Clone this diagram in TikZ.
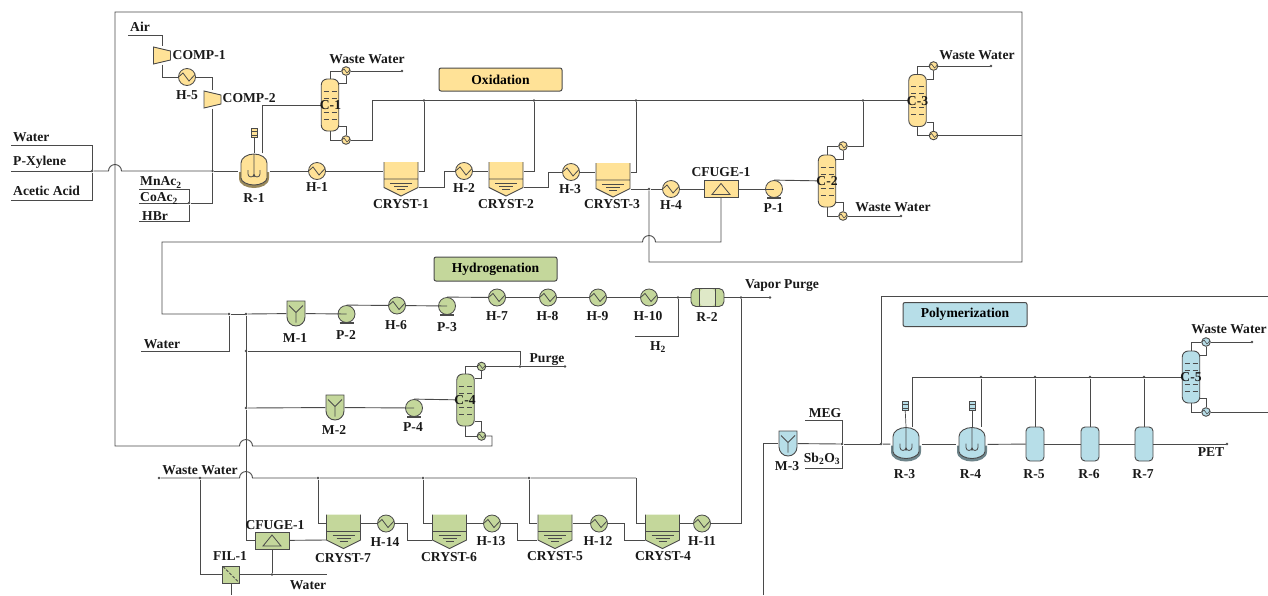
\documentclass[tikz,border=0pt]{standalone}
\usepackage{fontspec}
\setmainfont{Liberation Serif}
\definecolor{oxfill}{HTML}{FFE297}
\definecolor{hyfill}{HTML}{C4D79B}
\definecolor{pofill}{HTML}{B7DEE8}
\definecolor{linecol}{HTML}{4A4A4A}
\colorlet{unitfill}{oxfill}
\tikzset{
  flow/.style={draw=linecol,line width=.9pt},
  lab/.style={inner sep=0pt,font=\bfseries\fontsize{13.6}{15}\selectfont,text=black!90},
  stage/.style={draw=linecol,line width=1pt,rounded corners=2pt,inner sep=0pt,font=\bfseries\fontsize{13.6}{15}\selectfont},
  junc/.style={circle,fill=linecol,inner sep=0pt,minimum size=2.6pt},
  inbox/.style={shift={(path picture bounding box.center)}},
  heat/.style={circle,draw=linecol,line width=.8pt,fill=unitfill,inner sep=0pt,minimum size=17pt,
    path picture={\draw[inbox,line width=.8pt,draw=linecol] (-8.5,0)--(-4,-4)--(2,4)--(8.5,-3);}},
  cond/.style={circle,draw=linecol,line width=.9pt,fill=unitfill,inner sep=0pt,minimum size=8.6pt,
    path picture={\draw[inbox,line width=.6pt,draw=linecol] (-4.3,0)--(-2,-2)--(1,2)--(4.3,-1.5);}},
  pump/.style={circle,draw=linecol,line width=.8pt,fill=unitfill,inner sep=0pt,minimum size=17pt,
    append after command={([xshift=-7pt]\tikzlastnode.south) edge[draw=linecol,line width=1.5pt] ([xshift=7pt]\tikzlastnode.south)}},
  tower/.style={rectangle,draw=linecol,line width=.9pt,fill=unitfill,rounded corners=6pt,inner sep=0pt,
    minimum width=17.5pt,minimum height=52pt,
    path picture={\foreach \t in {-14,-7,7,14}{
      \draw[inbox,line width=.7pt,draw=linecol] (-6.5,\t)--(-1.5,\t) (1.5,\t)--(6.5,\t);}}},
  tank/.style={rectangle,draw=linecol,line width=.9pt,fill=unitfill,rounded corners=4pt,inner sep=0pt,
    minimum width=18pt,minimum height=34pt},
  cryst/.style={rectangle,inner sep=0pt,minimum width=35pt,minimum height=35pt,
    path picture={
      \fill[inbox,unitfill] (-17,-17)--(17,-17)--(17,8.5)--(0,17)--(-17,8.5)--cycle;
      \draw[inbox,draw=linecol,line width=.9pt] (-17,-17)--(-17,8.5)--(0,17)--(17,8.5)--(17,-17) (-17,0)--(17,0);
      \draw[inbox,draw=linecol,line width=.8pt] (-11,4)--(11,4) (-7,7)--(7,7) (-4,10)--(4,10);}},
  comp/.style={rectangle,inner sep=0pt,minimum width=18.5pt,minimum height=18pt,
    path picture={\path[inbox,fill=unitfill,draw=linecol,line width=.9pt] (-8.5,-8.5)--(8.5,-4.5)--(8.5,4.5)--(-8.5,8.5)--cycle;}},
  mixer/.style={rectangle,inner sep=0pt,minimum width=19pt,minimum height=26pt,
    path picture={
      \path[inbox,fill=unitfill,draw=linecol,line width=.9pt] (-9,-12.5)--(9,-12.5)--(9,3.5) arc[start angle=0,end angle=180,radius=9]--cycle;
      \draw[inbox,draw=linecol,line width=.8pt] (-7,-8)--(0,-1)--(7,-8) (0,-1)--(0,9);}},
  cfuge/.style={rectangle,draw=linecol,line width=.9pt,fill=unitfill,inner sep=0pt,minimum width=34pt,minimum height=17pt,
    path picture={\draw[inbox,draw=linecol,line width=.8pt] (0,-5.5)--(9,5.5)--(-9,5.5)--cycle;}},
  filt/.style={rectangle,draw=linecol,line width=1pt,fill=unitfill,inner sep=0pt,minimum size=17pt,
    path picture={\draw[inbox,draw=linecol,line width=.8pt,dash pattern=on 3pt off 1.5pt] (-8,-8)--(8,8);}},
  plug/.style={rectangle,draw=linecol,line width=.9pt,fill=unitfill,rounded corners=5pt,inner sep=0pt,minimum width=33pt,minimum height=18pt,
    path picture={
      \fill[inbox,unitfill!55!white] (-8,-9) rectangle (8,9);
      \draw[inbox,draw=linecol,line width=.8pt] (-8,-9)--(-8,9) (8,-9)--(8,9);}},
  react/.style={rectangle,inner sep=0pt,minimum width=31pt,minimum height=35pt,
    path picture={
      \path[inbox,fill=unitfill!60!black] (-15,1)--(-15,7) .. controls (-15,14) and (-7,17) .. (0,17) .. controls (7,17) and (15,14) .. (15,7)--(15,1)--cycle;
      \path[inbox,fill=unitfill,draw=linecol,line width=.9pt] (-13,-8) .. controls (-13,-13) and (-7,-17) .. (0,-17) .. controls (7,-17) and (13,-13) .. (13,-8)--(13,7) .. controls (13,11) and (6,14) .. (0,14) .. controls (-6,14) and (-13,11) .. (-13,7)--cycle;
      \draw[inbox,draw=linecol,line width=.8pt] (0,-17)--(0,6) (-6,-1)--(-6,3) arc[start angle=180,end angle=0,radius=3]--(0,6) (6,-1)--(6,3) arc[start angle=0,end angle=180,radius=3];}},
  motor/.style={rectangle,draw=linecol,line width=.7pt,fill=unitfill,inner sep=0pt,minimum width=6pt,minimum height=9pt,
    path picture={\draw[inbox,draw=linecol,line width=.6pt] (-4,-2)--(4,-2) (-4,2)--(4,2);}}
}
\begin{document}
\begin{tikzpicture}[x=1pt,y=-1pt]
\path[use as bounding box] (0,0) rectangle (1268,595);

% oxidation
\begin{scope}
\colorlet{unitfill}{oxfill}
\node[stage,fill=unitfill,minimum width=123pt,minimum height=23pt] (OxBox) at (500.5,79.5) {Oxidation};
\node[comp] (COMP1) at (162,55.5) {};
\node[heat] (H5) at (187,77) {};
\node[comp] (COMP2) at (212.5,99.5) {};
\node[react] (R1) at (254,171) {};
\node[motor] (MOT1) at (254,133) {};
\node[heat] (H1) at (317,171) {};
\node[cryst] (CR1) at (401,179) {};
\node[heat] (H2) at (464,171) {};
\node[cryst] (CR2) at (506,179) {};
\node[heat] (H3) at (571,172) {};
\node[cryst] (CR3) at (613,180) {};
\node[heat] (H4) at (671,189) {};
\node[cfuge] (CF1) at (721,189) {};
\node[pump] (P1) at (774,189) {};
\node[tower] (C1) at (330,105) {};
\node[cond] (CD1) at (346,71) {};
\node[cond] (RB1) at (346,140) {};
\node[tower] (C2) at (827,181) {};
\node[cond] (CD2) at (843,146) {};
\node[cond] (RB2) at (843,216) {};
\node[tower] (C3) at (917.5,100.5) {};
\node[cond] (CD3) at (933.5,66) {};
\node[cond] (RB3) at (933.5,135.5) {};
\end{scope}

% hydrogenation
\begin{scope}
\colorlet{unitfill}{hyfill}
\node[stage,fill=unitfill,minimum width=123pt,minimum height=24pt] (HyBox) at (495.5,269) {Hydrogenation};
\node[mixer] (M1) at (296,313.5) {};
\node[pump] (P2) at (346.5,314) {};
\node[heat] (H6) at (397,305.5) {};
\node[pump] (P3) at (447,306) {};
\node[heat] (H7) at (497,297.5) {};
\node[heat] (H8) at (548,297.5) {};
\node[heat] (H9) at (598,297.5) {};
\node[heat] (H10) at (649,297.5) {};
\node[plug] (R2) at (707.5,297.5) {};
\node[mixer] (M2) at (335,407.5) {};
\node[pump] (P4) at (414,408) {};
\node[tower] (C4) at (465.5,400) {};
\node[cond] (CD4) at (481.5,366.5) {};
\node[cond] (RB4) at (481.5,436) {};
\node[cfuge] (CF2) at (272,540.5) {};
\node[filt] (FIL1) at (231,574.5) {};
\node[cryst] (CR4) at (662.5,531.5) {};
\node[cryst] (CR5) at (555,531.5) {};
\node[cryst] (CR6) at (449.5,531.5) {};
\node[cryst] (CR7) at (343.5,531.5) {};
\node[heat] (H11) at (702,523.5) {};
\node[heat] (H12) at (599,523.5) {};
\node[heat] (H13) at (492,523.5) {};
\node[heat] (H14) at (386,523.5) {};
\end{scope}

% polymerization
\begin{scope}
\colorlet{unitfill}{pofill}
\node[stage,fill=unitfill,minimum width=124pt,minimum height=24pt] (PoBox) at (965,314.5) {Polymerization};
\node[mixer] (M3) at (788,443.5) {};
\node[react] (R3) at (906,444.5) {};
\node[motor] (MOT3) at (905,406) {};
\node[react] (R4) at (972,444.5) {};
\node[motor] (MOT4) at (972,406) {};
\node[tank] (R5) at (1035,444) {};
\node[tank] (R6) at (1090,444) {};
\node[tank] (R7) at (1144,444) {};
\node[tower] (C5) at (1191,377) {};
\node[cond] (CD5) at (1206,342) {};
\node[cond] (RB5) at (1206,412) {};
\end{scope}

% junctions and stream ends
\coordinate (WaterIn) at (11,145);
\coordinate (PXIn) at (11,171);
\coordinate (AcidIn) at (11,200);
\coordinate (AirIn) at (128,35);
\coordinate (MnIn) at (139,189);
\coordinate (CoIn) at (139,203);
\coordinate (HBrIn) at (139,221);
\coordinate (HopA) at (108.5,171);
\coordinate (HopB) at (655.5,242);
\coordinate (HopC) at (252.5,446);
\coordinate (HopD) at (252.5,478);
\coordinate (VapL) at (372,100.5);
\coordinate (RecR) at (1022,135.5);
\coordinate (RecBR) at (1022,262);
\coordinate (RecTR) at (1022,12);
\coordinate (RecTL) at (115,12);
\coordinate (RecBL) at (115,446);
\coordinate (HydTL) at (162,242);
\coordinate (C4Out) at (492,446);
\coordinate (WCorner) at (636,478);
\coordinate (WaterH) at (141,351);
\coordinate (H2In) at (635,336);
\coordinate (FilOut) at (231,595);
\coordinate (M3In) at (763,595);
\coordinate (MEGIn) at (805,420);
\coordinate (SbIn) at (805,468);
\coordinate (PolOut) at (1268,296);
\coordinate (C5Out) at (1268,412);
\coordinate (WaterEnd) at (327,574.5);
\node[junc] (JFeed) at (92,171) {};
\node[junc] (JMain) at (212.5,171) {};
\node[junc] (JCo) at (189,203) {};
\node[junc] (JV1) at (424,100.5) {};
\node[junc] (JV2) at (534,100.5) {};
\node[junc] (JV3) at (636,100.5) {};
\node[junc] (JV4) at (863,100.5) {};
\node[junc] (JLiq) at (649,189) {};
\node[junc] (JW) at (229,314) {};
\node[junc] (JM) at (246,314) {};
\node[junc] (JP) at (246,351) {};
\node[junc] (JM2) at (246,408) {};
\node[junc] (JH2) at (678,297.5) {};
\node[junc] (JVP) at (741,297.5) {};
\node[junc] (JPurge) at (520,366.5) {};
\node[junc] (JW1) at (200,478) {};
\node[junc] (JW2) at (318,478) {};
\node[junc] (JW3) at (423,478) {};
\node[junc] (JW4) at (529,478) {};
\node[junc] (JFW) at (272,574.5) {};
\node[junc] (JMEG) at (842,444) {};
\node[junc] (JPol) at (881,444) {};
\node[junc] (JC1) at (981,377) {};
\node[junc] (JC2) at (1035,377) {};
\node[junc] (JC3) at (1090,377) {};
\node[junc] (JC4) at (1144,377) {};
\node[junc] (WW1End) at (402,71) {};
\node[junc] (WW2End) at (901,216) {};
\node[junc] (WW3End) at (991,66) {};
\node[junc] (WW4End) at (159,478) {};
\node[junc] (WW5End) at (1252,342) {};
\node[junc] (VPEnd) at (770,297.5) {};
\node[junc] (PurgeEnd) at (565,366.5) {};
\node[junc] (PETEnd) at (1227,444) {};

% oxidation streams
\draw[flow] (WaterIn) -| (JFeed);
\draw[flow] (PXIn) -- (JFeed);
\draw[flow] (AcidIn) -| (JFeed);
\draw[flow] (JFeed) -- (HopA) arc[start angle=180,end angle=360,radius=6.5] -- (JMain);
\draw[flow] (JMain) -- (R1);
\draw[flow] (AirIn) -| (COMP1);
\draw[flow] (COMP1) |- (H5);
\draw[flow] (H5) -| (COMP2);
\draw[flow] (COMP2) -- (JMain);
\draw[flow] (MnIn) -| (JCo);
\draw[flow] (HBrIn) -| (JCo);
\draw[flow] (CoIn) -- (JCo);
\draw[flow] (JCo) -| (JMain);
\draw[flow,line width=.7pt] (MOT1) -- (R1.north);
\draw[flow] ([xshift=8pt]R1.north) |- (C1);
\draw[flow] (R1) -- (H1);
\draw[flow] (H1) -- ([yshift=8pt]CR1.west);
\draw[flow] ([yshift=8pt]CR1.east) -| (JV1);
\draw[flow] ([yshift=-8pt]CR1.east) -- ++(26,0) |- (H2);
\draw[flow] (H2) -- ([yshift=8pt]CR2.west);
\draw[flow] ([yshift=8pt]CR2.east) -| (JV2);
\draw[flow] ([yshift=-8pt]CR2.east) -- ++(25,0) |- (H3);
\draw[flow] (H3) -- ([yshift=8pt]CR3.west);
\draw[flow] ([yshift=8pt]CR3.east) -| (JV3);
\draw[flow] ([yshift=-9pt]CR3.east) -- (JLiq);
\draw[flow] (JLiq) -- (H4);
\draw[flow] (H4) -- (CF1);
\draw[flow] (CF1) -- (P1.center);
\draw[flow] (P1.north) -- (C2);
\draw[flow] (C1.north) |- (CD1);
\draw[flow] (CD1) -- (WW1End);
\draw[flow] ([yshift=-5pt]C1.north east) -| (CD1);
\draw[flow] (C1.south) |- (RB1);
\draw[flow] ([yshift=5pt]C1.south east) -| (RB1);
\draw[flow] (RB1) -| (VapL) -- (C3);
\draw[flow] (C2.north) |- (CD2);
\draw[flow] (CD2) -| (JV4);
\draw[flow] ([yshift=-5pt]C2.north east) -| (CD2);
\draw[flow] (C2.south) |- (RB2);
\draw[flow] ([yshift=5pt]C2.south east) -| (RB2);
\draw[flow] (RB2) -- (WW2End);
\draw[flow] (C3.north) |- (CD3);
\draw[flow] (CD3) -- (WW3End);
\draw[flow] ([yshift=-5pt]C3.north east) -| (CD3);
\draw[flow] (C3.south) |- (RB3);
\draw[flow] ([yshift=5pt]C3.south east) -| (RB3);
\draw[flow] (RB3) -- (RecR);
\draw[flow] (CF1) |- (HopB) arc[start angle=0,end angle=-180,radius=6.5] -- (HydTL) |- (JW);
\draw[flow] (RB4) -| (C4Out) -- (HopC) arc[start angle=0,end angle=-180,radius=6.5] -- (RecBL) -- (RecTL) -- (RecTR) -- (RecBR) -| (JLiq);

% hydrogenation streams
\draw[flow] (WaterH) -| (JW);
\draw[flow] (JW) -- (JM);
\draw[flow] (JM) -- (M1);
\draw[flow] (M1) -- (P2.center);
\draw[flow] (P2.north) -- (H6);
\draw[flow] (H6) -- (P3.center);
\draw[flow] (P3.north) -- (H7);
\draw[flow] (H7) -- (H8);
\draw[flow] (H8) -- (H9);
\draw[flow] (H9) -- (H10);
\draw[flow] (H10) -- (R2);
\draw[flow] (H2In) -| (JH2);
\draw[flow] (R2) -- (VPEnd);
\draw[flow] (JM) -- (JM2) |- (CF2);
\draw[flow] (JP) -| (JPurge);
\draw[flow] (CD4) -- (PurgeEnd);
\draw[flow] (JM2) -- (M2);
\draw[flow] (M2) -- (P4.center);
\draw[flow] (P4.north) -- (C4);
\draw[flow] (C4.north) |- (CD4);
\draw[flow] ([yshift=-5pt]C4.north east) -| (CD4);
\draw[flow] (C4.south) |- (RB4);
\draw[flow] ([yshift=5pt]C4.south east) -| (RB4);
\draw[flow] (WCorner) -- (JW4) -- (JW3) -- (JW2) -- (HopD) arc[start angle=0,end angle=-180,radius=6.5] -- (WW4End);
\draw[flow] (JW1) |- (FIL1);
\draw[flow] (FIL1) -- (WaterEnd);
\draw[flow] (CF2) -- (JFW);
\draw[flow] (FIL1) -- (FilOut);
\draw[flow] (WCorner) |- ([yshift=8pt]CR4.west);
\draw[flow] (JW4) |- ([yshift=8pt]CR5.west);
\draw[flow] (JW3) |- ([yshift=8pt]CR6.west);
\draw[flow] (JW2) |- ([yshift=8pt]CR7.west);
\draw[flow] ([yshift=8pt]CR4.east) -- (H11);
\draw[flow] (H11) -| (JVP);
\draw[flow] ([yshift=8pt]CR5.east) -- (H12);
\draw[flow] (H12) -| ([xshift=-20pt,yshift=-8.5pt]CR4.west) -- ([yshift=-8.5pt]CR4.west);
\draw[flow] ([yshift=8pt]CR6.east) -- (H13);
\draw[flow] (H13) -| ([xshift=-20pt,yshift=-8.5pt]CR5.west) -- ([yshift=-8.5pt]CR5.west);
\draw[flow] ([yshift=8pt]CR7.east) -- (H14);
\draw[flow] (H14) -| ([xshift=-24pt,yshift=-8.5pt]CR6.west) -- ([yshift=-8.5pt]CR6.west);
\draw[flow] ([yshift=-8.5pt]CR7.west) -- (CF2);

% polymerization streams
\draw[flow] (M3In) |- (M3);
\draw[flow] (M3) -- (JMEG);
\draw[flow] (MEGIn) -| (JMEG);
\draw[flow] (SbIn) -| (JMEG);
\draw[flow] (JMEG) -- (JPol);
\draw[flow] (JPol) |- (PolOut);
\draw[flow] (JPol) -- (R3);
\draw[flow] (R3) -- (R4);
\draw[flow] (R4) -- (R5);
\draw[flow] (R5) -- (R6);
\draw[flow] (R6) -- (R7);
\draw[flow] (R7) -- (PETEnd);
\draw[flow,line width=.7pt] (MOT3) -- (R3.north);
\draw[flow,line width=.7pt] (MOT4) -- (R4.north);
\draw[flow] ([xshift=6pt]R3.north) |- (C5);
\draw[flow] ([xshift=9pt]R4.north) -- (JC1);
\draw[flow] (R5) -- (JC2);
\draw[flow] (R6) -- (JC3);
\draw[flow] (R7) -- (JC4);
\draw[flow] (C5.north) |- (CD5);
\draw[flow] (CD5) -- (WW5End);
\draw[flow] ([yshift=-5pt]C5.north east) -| (CD5);
\draw[flow] (C5.south) |- (RB5);
\draw[flow] ([yshift=5pt]C5.south east) -| (RB5);
\draw[flow] (RB5) -- (C5Out);

% labels
\node[lab,anchor=west] (LWater) at (13,137) {Water};
\node[lab,anchor=west] (LPX) at (13,162) {P-Xylene};
\node[lab,anchor=west] (LAcid) at (13,191) {Acetic Acid};
\node[lab,anchor=west] (LAir) at (130,27) {Air};
\node[lab,anchor=west] (LMn) at (140,182.5) {MnAc\textsubscript{2}};
\node[lab,anchor=west] (LCo) at (140,198.5) {CoAc\textsubscript{2}};
\node[lab,anchor=west] (LHBr) at (142,216) {HBr};
\node[lab,anchor=west] (LCOMP1) at (172.5,55.5) {COMP-1};
\node[lab] (LH5) at (187,95) {H-5};
\node[lab,anchor=west] (LCOMP2) at (222.5,98.5) {COMP-2};
\node[lab] (LR1) at (254,198) {R-1};
\node[lab] (LH1) at (317,187) {H-1};
\node[lab] (LCR1) at (401,204) {CRYST-1};
\node[lab] (LH2) at (464,187.5) {H-2};
\node[lab] (LCR2) at (506,204) {CRYST-2};
\node[lab] (LH3) at (570,189.5) {H-3};
\node[lab] (LCR3) at (612,204.5) {CRYST-3};
\node[lab] (LH4) at (671,205) {H-4};
\node[lab] (LCF1) at (721,172) {CFUGE-1};
\node[lab] (LP1) at (773.5,208) {P-1};
\node[lab] (LC1) at (330.5,105.5) {C-1};
\node[lab] (LC2) at (827,181) {C-2};
\node[lab] (LC3) at (917.5,101) {C-3};
\node[lab] (LWW1) at (367,59) {Waste Water};
\node[lab] (LWW2) at (893,207.5) {Waste Water};
\node[lab] (LWW3) at (977,55) {Waste Water};
\node[lab] (LWaterH) at (162,344) {Water};
\node[lab] (LM1) at (295,338) {M-1};
\node[lab] (LP2) at (346,335) {P-2};
\node[lab] (LH6) at (396,325) {H-6};
\node[lab] (LP3) at (447,327) {P-3};
\node[lab] (LH7) at (497,316.5) {H-7};
\node[lab] (LH8) at (547.5,316.5) {H-8};
\node[lab] (LH9) at (597.5,316.5) {H-9};
\node[lab] (LH10) at (648,316) {H-10};
\node[lab] (LR2) at (707,317) {R-2};
\node[lab] (LH2In) at (658,347) {H\textsubscript{2}};
\node[lab] (LVP) at (782,285.5) {Vapor Purge};
\node[lab] (LPurge) at (547,359.5) {Purge};
\node[lab] (LM2) at (334,430) {M-2};
\node[lab] (LP4) at (413,427.5) {P-4};
\node[lab] (LC4) at (465,400.5) {C-4};
\node[lab] (LWW4) at (200,470) {Waste Water};
\node[lab] (LCF2) at (275,525) {CFUGE-1};
\node[lab] (LFIL1) at (230,556) {FIL-1};
\node[lab] (LWaterE) at (308,585) {Water};
\node[lab] (LCR7) at (343,558) {CRYST-7};
\node[lab] (LH14) at (385,542) {H-14};
\node[lab] (LCR6) at (449,557) {CRYST-6};
\node[lab] (LH13) at (491,541) {H-13};
\node[lab] (LCR5) at (555,556.5) {CRYST-5};
\node[lab] (LH12) at (598,541) {H-12};
\node[lab] (LCR4) at (663,556.5) {CRYST-4};
\node[lab] (LH11) at (702,541) {H-11};
\node[lab] (LM3) at (787,466) {M-3};
\node[lab] (LMEG) at (825,413.5) {MEG};
\node[lab] (LSb) at (822,458.5) {Sb\textsubscript{2}O\textsubscript{3}};
\node[lab] (LR3) at (904.5,474) {R-3};
\node[lab] (LR4) at (970.5,474) {R-4};
\node[lab] (LR5) at (1034,474) {R-5};
\node[lab] (LR6) at (1089,474) {R-6};
\node[lab] (LR7) at (1143,474) {R-7};
\node[lab] (LPET) at (1211,452) {PET};
\node[lab] (LC5) at (1191,377) {C-5};
\node[lab] (LWW5) at (1229,329.5) {Waste Water};
\end{tikzpicture}
\end{document}
